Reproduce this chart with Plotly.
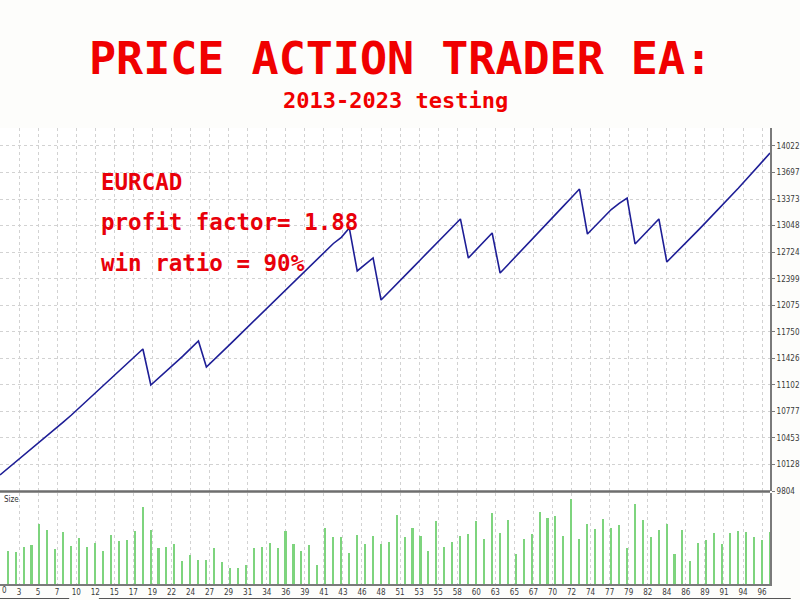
import plotly.graph_objects as go

# ---- data ----
trade_no = list(range(0, 98))
balance = [
    10000, 10080, 10162, 10243, 10325, 10405, 10488, 10570, 10650, 10733,
    10822, 10912, 11002, 11092, 11182, 11272, 11362, 11452, 11540, 11100,
    11185, 11272, 11360, 11450, 11545, 11638, 11320, 11410, 11505, 11600,
    11695, 11790, 11885, 11980, 12075, 12168, 12262, 12355, 12448, 12542,
    12636, 12730, 12830, 12905, 13020, 12494, 12575, 12653, 12139, 12235,
    12335, 12435, 12535, 12635, 12735, 12835, 12935, 13032, 13130, 12653,
    12755, 12858, 12958, 12469, 12570, 12672, 12775, 12878, 12980, 13085,
    13188, 13290, 13393, 13496, 12946, 13050, 13150, 13245, 13320, 13386,
    12824, 12930, 13030, 13130, 12604, 12700, 12800, 12897, 12997, 13097,
    13197, 13298, 13398, 13505, 13612, 13720, 13828, 13936,
]
size_trade = list(range(1, 98))
size_lots = [
    0.98, 0.95, 1.12, 1.18, 1.80, 1.60, 1.06, 1.55, 1.15, 1.37,
    1.10, 1.22, 0.98, 1.45, 1.30, 1.33, 1.58, 2.30, 1.60, 1.07,
    1.12, 1.20, 0.68, 0.88, 0.72, 0.72, 1.07, 0.67, 0.47, 0.47,
    0.57, 1.07, 1.12, 1.22, 1.08, 1.58, 1.20, 0.99, 1.18, 0.57,
    1.67, 1.40, 1.40, 0.93, 1.45, 1.20, 1.42, 1.20, 1.25, 2.05,
    1.40, 1.67, 1.42, 0.98, 1.87, 1.10, 1.25, 1.43, 1.50, 1.87,
    1.35, 2.11, 1.53, 1.90, 0.90, 1.35, 1.50, 2.15, 1.98, 2.03,
    1.43, 2.53, 1.35, 1.80, 1.63, 1.95, 1.67, 1.75, 1.07, 2.40,
    1.90, 1.40, 1.62, 1.80, 0.90, 1.62, 0.70, 1.23, 1.33, 1.53,
    1.20, 1.53, 1.57, 1.55, 1.40, 1.33, 1.55,
]
y_ticks = [9804, 10128, 10453, 10777, 11102, 11426, 11750, 12075, 12399,
           12724, 13048, 13373, 13697, 14022]
x_tick_labels = ["0", "3", "5", "7", "10", "12", "15", "17", "19", "22", "24",
                 "27", "29", "31", "34", "36", "39", "41", "43", "46", "48",
                 "51", "53", "55", "58", "60", "63", "65", "67", "70", "72",
                 "74", "77", "79", "82", "84", "86", "89", "91", "94", "96"]
x_tick_pos = [k * 2.4 for k in range(len(x_tick_labels))]

title_text = "PRICE ACTION TRADER EA:"
subtitle_text = "2013-2023 testing"
info_lines = ["EURCAD", "profit factor= 1.88", "win ratio = 90%"]

RED = "#f00000"
GRID = "#d2d2d2"
AXIS = "#7a7a7a"
small_font = dict(family="Liberation Sans Narrow, DejaVu Sans Condensed, Arial Narrow, sans-serif",
                  size=8, color="#3a3a3a")
mono = "DejaVu Sans Mono, Liberation Mono, monospace"

fig = go.Figure()
fig.add_trace(go.Scatter(x=trade_no, y=balance, mode="lines",
                         line=dict(color="#1e1e96", width=1.6),
                         xaxis="x", yaxis="y", showlegend=False,
                         hoverinfo="skip"))
fig.add_trace(go.Bar(x=size_trade, y=size_lots, width=0.2,
                     marker=dict(color="#7ed47e", line=dict(width=0)),
                     xaxis="x2", yaxis="y2", showlegend=False,
                     hoverinfo="skip"))

main_bottom = (584 - 491) / 456.0
vol_top = (584 - 493) / 456.0

fig.update_layout(
    width=800, height=600,
    margin=dict(l=0, r=21, t=128, b=16, pad=0),
    paper_bgcolor="#fdfdfb", plot_bgcolor="#ffffff",
    bargap=0,
    xaxis=dict(domain=[0, 1], range=[0, 97], tickvals=x_tick_pos,
               showticklabels=False, showgrid=True, gridcolor=GRID,
               griddash="dot", gridwidth=1, zeroline=False, showline=False,
               anchor="y"),
    yaxis=dict(domain=[main_bottom, 1], range=[9804, 14242], side="right",
               tickvals=y_ticks, ticktext=[str(v) for v in y_ticks],
               tickfont=small_font, ticks="outside", ticklen=3,
               tickcolor=AXIS, showgrid=True, gridcolor=GRID,
               griddash="dot", zeroline=False, showline=True,
               linecolor=AXIS, linewidth=2, anchor="x"),
    xaxis2=dict(domain=[0, 1], range=[0, 97], matches="x",
                tickvals=x_tick_pos, ticktext=x_tick_labels,
                tickfont=small_font, ticks="", showgrid=True,
                gridcolor=GRID, griddash="dot", zeroline=False,
                showline=True, linecolor=AXIS, linewidth=1.5, anchor="y2"),
    yaxis2=dict(domain=[0, vol_top], range=[0, 2.72], side="right",
                showticklabels=False, showgrid=False, zeroline=False,
                showline=True, linecolor=AXIS, linewidth=2, ticks="",
                anchor="x2"),
)

# panel separator and bottom tab strip
fig.add_shape(type="line", xref="paper", yref="paper", x0=0, x1=1,
              y0=(584 - 491.5) / 456.0, y1=(584 - 491.5) / 456.0,
              line=dict(color="#6e6e6e", width=2.5))
tab_y = (584 - 598.5) / 456.0
fig.add_shape(type="line", xref="paper", yref="paper", x0=0, x1=70 / 779.0,
              y0=tab_y, y1=tab_y, line=dict(color="#555555", width=1))
fig.add_shape(type="line", xref="paper", yref="paper", x0=100 / 779.0,
              x1=800 / 779.0, y0=tab_y, y1=tab_y,
              line=dict(color="#555555", width=1))

fig.add_annotation(text="Size", xref="paper", yref="paper", x=0.002,
                   y=(584 - 499) / 456.0, xanchor="left", yanchor="middle",
                   showarrow=False, font=dict(family=small_font["family"],
                                              size=8, color="#333333"))
# first x label (clipped at the left edge in the reference)
fig.add_annotation(text=x_tick_labels[0], xref="paper", yref="paper", x=0,
                   y=(584 - 590) / 456.0, xanchor="left", yanchor="middle",
                   showarrow=False, font=small_font)

# titles
fig.add_annotation(text="<b>%s</b>" % title_text, xref="paper", yref="paper",
                   x=405 / 779.0, y=(584 - 59) / 456.0, xanchor="center",
                   yanchor="middle", showarrow=False,
                   font=dict(family=mono, size=45, color=RED))
fig.add_annotation(text="<b>%s</b>" % subtitle_text, xref="paper", yref="paper",
                   x=400 / 779.0, y=(584 - 100) / 456.0, xanchor="center",
                   yanchor="middle", showarrow=False,
                   font=dict(family=mono, size=22, color=RED))

info_y = [182, 222, 263]
for txt, yy in zip(info_lines, info_y):
    fig.add_annotation(text="<b>%s</b>" % txt, xref="paper", yref="paper",
                       x=100 / 779.0, y=(584 - yy) / 456.0, xanchor="left",
                       yanchor="middle", showarrow=False,
                       font=dict(family=mono, size=22.5, color="#e8000a"))

fig.write_html("out.html", config={"displayModeBar": False},
               post_script="document.body.style.margin='0';"
                           "document.body.style.overflow='hidden';")
